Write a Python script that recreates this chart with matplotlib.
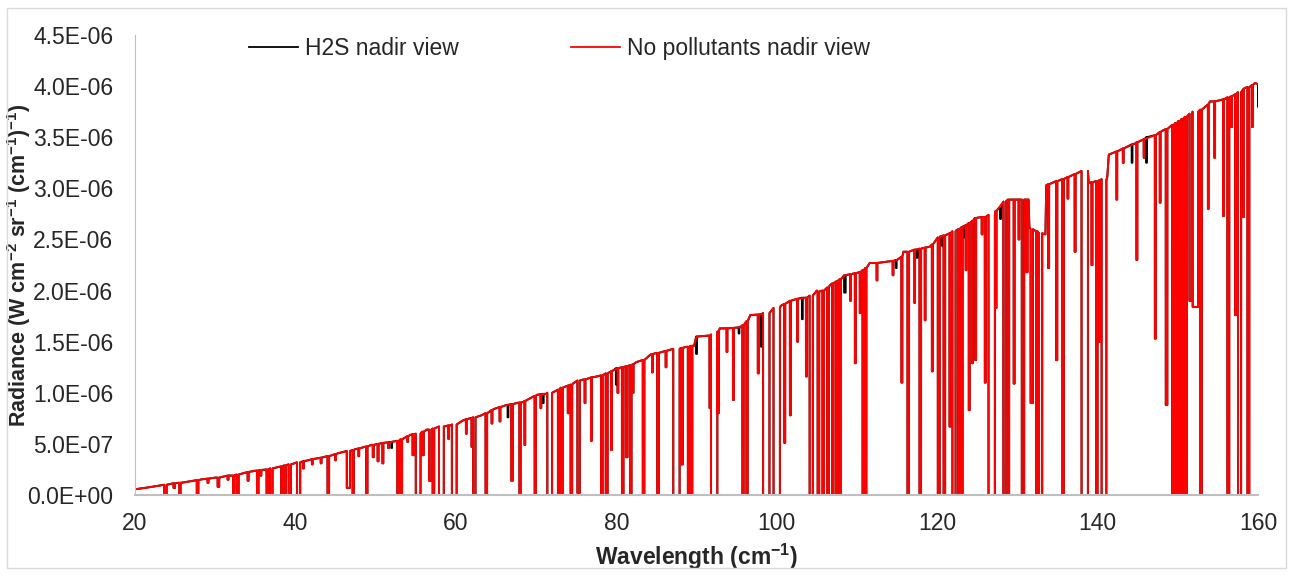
import numpy as np
import matplotlib
matplotlib.use("Agg")
import matplotlib.pyplot as plt
from matplotlib.lines import Line2D
from matplotlib.patches import Rectangle
from matplotlib.ticker import FuncFormatter, MultipleLocator

# --- values (radiance in units of 1E-06 W cm-2 sr-1 (cm-1)-1) ---
# upper envelope of the spectrum
env_x = [20, 21.7, 23.7, 25.8, 28.3, 30, 32.5, 34.5, 35.8, 37.5,
         39.5, 41.6, 43.7, 45.4, 47.4, 49.5, 52, 54.3, 56.4, 58.0,
         59.3, 60.9, 63.2, 64.7, 66.3, 68.4, 70.1, 71.3, 74.6, 75.9,
         77.6, 80.1, 82.5, 84.2, 87.1, 88.8, 89.7, 90.0, 91.7, 92.9,
         95.4, 96.7, 98.1, 100.5, 101.7, 103.7, 105.0, 106.6, 108.5, 110.4,
         111.6, 115.0, 115.8, 119.1, 120.4, 122.4, 124.7, 126.0, 127.6, 128.9,
         131.4, 131.5, 133.5, 133.6, 136.0, 138.0, 138.9, 141.2, 141.4, 144.7,
         148.0, 149.4, 151.9, 154.0, 156.4, 158.3, 159.6, 160.0]
env_y = [0.056, 0.075, 0.097, 0.12, 0.153, 0.17, 0.196, 0.23, 0.245, 0.267,
         0.30, 0.34, 0.375, 0.41, 0.447, 0.49, 0.52, 0.587, 0.64, 0.67,
         0.68, 0.73, 0.78, 0.84, 0.88, 0.91, 0.98, 0.99, 1.09, 1.13,
         1.16, 1.24, 1.30, 1.37, 1.43, 1.45, 1.46, 1.55, 1.56, 1.63,
         1.64, 1.76, 1.77, 1.85, 1.92, 1.93, 2.0, 2.05, 2.15, 2.18,
         2.27, 2.30, 2.38, 2.43, 2.53, 2.59, 2.71, 2.72, 2.80, 2.89,
         2.89, 2.62, 2.55, 3.03, 3.10, 3.18, 3.05, 3.10, 3.33, 3.44,
         3.56, 3.62, 3.75, 3.85, 3.90, 3.98, 4.03, 4.02]

# absorption lines (both runs): centre, half width, level beside the line, level at its bottom
dip_x = [23.8, 24.9, 25.6, 27.8, 29.1, 30.4, 31.6, 32.3, 32.8, 34.1,
         35.3, 35.7, 36.5, 37.0, 38.3, 38.7, 39.3, 40.4, 41.0, 42.1,
         43.2, 44.1, 45.0, 46.6, 47.2, 47.9, 48.9, 49.7, 50.3, 50.9,
         51.6, 52.8, 53.2, 54.0, 54.7, 55.3, 55.9, 56.8, 57.2, 58.2,
         59.1, 59.8, 61.3, 62.0, 62.3, 63.8, 64.5, 65.5, 67.0, 68.0,
         68.6, 69.9, 70.6, 71.7, 72.8, 73.2, 74.0, 74.4, 75.3, 76.1,
         76.9, 78.2, 78.8, 79.4, 80.2, 80.8, 81.3, 81.8, 82.1, 83.4,
         84.5, 85.2, 86.2, 87.5, 88.2, 89.0, 89.4, 91.7, 92.2, 92.7,
         93.8, 94.6, 95.8, 96.3, 97.7, 98.7, 100.0, 101.0, 101.7, 102.6,
         103.7, 104.3, 105.2, 105.8, 106.4, 107.0, 107.5, 107.9, 109.2, 109.8,
         110.4, 110.8, 111.1, 112.5, 114.5, 115.6, 116.4, 117.2, 117.9, 118.5,
         119.4, 120.2, 120.9, 121.6, 122.1, 122.7, 123.1, 123.6, 124.0, 124.4,
         124.8, 125.6, 126.0, 126.8, 127.35, 128.4, 128.9, 129.6, 130.2, 130.7,
         131.2, 131.8, 132.4, 132.9, 133.9, 134.9, 135.7, 136.3, 137.2, 138.4,
         139.3, 139.9, 140.3, 140.8, 142.4, 143.2, 144.9, 145.8, 147.2, 147.8,
         148.6, 149.4, 149.8, 150.2, 150.6, 151.0, 151.6, 152.2, 152.9, 153.8,
         154.6, 155.7, 156.3, 156.7, 157.2, 157.7, 158.2, 158.8, 159.3]
dip_hw = [0.15, 0.1, 0.08, 0.1, 0.06, 0.1, 0.06, 0.08, 0.12, 0.06,
          0.1, 0.05, 0.1, 0.15, 0.08, 0.1, 0.15, 0.2, 0.05, 0.05,
          0.05, 0.1, 0.05, 0.2, 0.08, 0.05, 0.08, 0.06, 0.06, 0.06,
          0.05, 0.1, 0.1, 0.05, 0.1, 0.3, 0.1, 0.15, 0.1, 0.3,
          0.05, 0.3, 0.05, 0.05, 0.15, 0.1, 0.05, 0.05, 0.1, 0.08,
          0.05, 0.08, 0.05, 0.3, 0.08, 0.12, 0.05, 0.1, 0.15, 0.05,
          0.05, 0.1, 0.12, 0.05, 0.05, 0.1, 0.1, 0.1, 0.05, 0.1,
          0.05, 0.1, 0.05, 0.4, 0.1, 0.08, 0.08, 0.08, 0.4, 0.08,
          0.05, 0.06, 0.08, 0.08, 0.06, 0.4, 0.4, 0.06, 0.06, 0.05,
          0.06, 0.2, 0.1, 0.1, 0.1, 0.08, 0.08, 0.08, 0.05, 0.06,
          0.05, 0.1, 0.08, 0.05, 0.05, 0.06, 0.1, 0.05, 0.1, 0.05,
          0.06, 0.12, 0.1, 0.06, 0.2, 0.1, 0.08, 0.05, 0.06, 0.05,
          0.06, 0.05, 0.06, 0.4, 0.05, 0.15, 0.08, 0.06, 0.05, 0.15,
          0.08, 0.15, 0.08, 0.2, 0.06, 0.08, 0.1, 0.05, 0.06, 0.4,
          0.06, 0.1, 0.06, 0.3, 0.05, 0.05, 0.06, 0.05, 0.06, 0.05,
          0.1, 0.12, 0.12, 0.12, 0.12, 0.12, 0.15, 0.35, 0.1, 0.05,
          0.05, 0.06, 0.12, 0.05, 0.06, 0.2, 0.05, 0.12, 0.05]
dip_top = [0.10, 0.115, 0.12, 0.145, 0.16, 0.17, 0.19, 0.19, 0.20, 0.225,
           0.24, 0.245, 0.25, 0.26, 0.28, 0.29, 0.30, 0.32, 0.33, 0.35,
           0.365, 0.38, 0.40, 0.43, 0.44, 0.455, 0.475, 0.49, 0.50, 0.51,
           0.515, 0.53, 0.545, 0.575, 0.595, 0.60, 0.62, 0.64, 0.65, 0.67,
           0.68, 0.69, 0.74, 0.755, 0.76, 0.80, 0.83, 0.86, 0.89, 0.905,
           0.92, 0.97, 0.985, 1.0, 1.03, 1.05, 1.07, 1.08, 1.12, 1.13,
           1.15, 1.17, 1.19, 1.21, 1.24, 1.25, 1.26, 1.27, 1.28, 1.32,
           1.38, 1.39, 1.41, 1.43, 1.44, 1.45, 1.46, 1.56, 1.57, 1.60,
           1.63, 1.635, 1.66, 1.70, 1.765, 1.78, 1.83, 1.87, 1.90, 1.92,
           1.93, 1.95, 1.99, 2.0, 2.03, 2.07, 2.09, 2.11, 2.16, 2.17,
           2.18, 2.20, 2.22, 2.27, 2.29, 2.33, 2.38, 2.40, 2.41, 2.42,
           2.45, 2.52, 2.54, 2.56, 2.58, 2.60, 2.62, 2.64, 2.66, 2.68,
           2.71, 2.72, 2.72, 2.74, 2.78, 2.87, 2.89, 2.89, 2.89, 2.89,
           2.89, 2.60, 2.58, 2.56, 3.04, 3.07, 3.09, 3.11, 3.14, 3.17,
           3.06, 3.07, 3.08, 3.09, 3.36, 3.39, 3.45, 3.48, 3.52, 3.55,
           3.58, 3.62, 3.64, 3.66, 3.68, 3.70, 3.73, 3.75, 3.77, 3.82,
           3.85, 3.87, 3.89, 3.90, 3.92, 3.94, 3.97, 3.99, 4.01]
dip_bot = [0, 0.07, 0, 0, 0.12, 0.08, 0.15, 0, 0, 0.14,
           0, 0.19, 0, 0, 0, 0, 0, 0, 0.26, 0.30,
           0.31, 0, 0.34, 0.07, 0, 0.38, 0, 0.37, 0.33, 0.31,
           0.46, 0, 0, 0.52, 0.39, 0, 0.39, 0.14, 0, 0,
           0.55, 0, 0.60, 0.47, 0, 0, 0.70, 0.72, 0.14, 0,
           0.49, 0, 0.85, 0, 0, 0, 0.8, 0, 0.02, 0.9,
           0.53, 0, 0, 0.44, 1.0, 0, 0.37, 0, 1.0, 0,
           1.2, 0, 1.25, 0, 0.3, 0, 0, 0.85, 0, 0.80,
           1.4, 0.93, 0, 0, 1.19, 0, 0, 0.51, 0.78, 1.5,
           1.16, 0, 0, 0, 0, 0, 0, 0, 1.9, 1.29,
           1.78, 0, 0, 2.1, 2.15, 1.1, 0, 1.88, 0, 1.71,
           1.21, 0, 0, 0.67, 0, 0, 0, 2.2, 0.83, 1.29,
           1.32, 2.55, 1.1, 0, 1.83, 0, 0, 1.09, 2.5, 0,
           2.18, 0.9, 0, 0, 2.22, 1.32, 0, 2.9, 2.38, 0,
           2.25, 0, 1.50, 0, 2.89, 3.25, 2.30, 3.3, 1.53, 2.86,
           0.88, 0, 0, 0, 0, 0, 1.9, 1.84, 0, 2.8,
           3.3, 2.73, 0, 3.6, 1.76, 0, 2.72, 0, 3.6]

# extra absorption seen only in the H2S run (black, peeks out below the red trace)
h2s_x = [52.0, 66.5, 70.9, 80.0, 90.0, 95.3, 98.1, 103.2, 108.5, 114.9,
         117.5, 120.6, 123.3, 127.9, 144.3, 146.1]
h2s_hw = [0.05, 0.05, 0.05, 0.05, 0.05, 0.05, 0.05, 0.05, 0.1, 0.05,
          0.05, 0.05, 0.05, 0.05, 0.05, 0.05]
h2s_top = [0.52, 0.88, 0.99, 1.24, 1.55, 1.64, 1.77, 1.93, 2.15, 2.30,
           2.40, 2.53, 2.63, 2.80, 3.43, 3.50]
h2s_bot = [0.46, 0.76, 0.90, 1.08, 1.38, 1.58, 1.45, 1.72, 1.98, 2.22,
           2.32, 2.44, 2.52, 2.70, 3.25, 3.25]
h2s_last = (160.0, 3.80)


def build_trace(ex, ey, lines, extra=()):
    spans = [(x - w, x + w) for x, w, _, _ in lines]
    pts = [(x, y) for x, y in zip(ex, ey) if not any(a <= x <= b for a, b in spans)]
    for x, w, top, bot in lines:
        pts += [(x - w, top), (x - w + 0.005, bot), (x + w - 0.005, bot), (x + w, top)]
    pts.sort(key=lambda p: p[0])
    pts += list(extra)
    arr = np.array(pts)
    return arr[:, 0], arr[:, 1] * 1e-6


red_lines = list(zip(dip_x, dip_hw, dip_top, dip_bot))
h2s_lines = red_lines + list(zip(h2s_x, h2s_hw, h2s_top, h2s_bot))
red_x, red_y = build_trace(env_x, env_y, red_lines)
blk_x, blk_y = build_trace(env_x, env_y, h2s_lines, extra=[h2s_last])

plt.rcParams.update({
    "font.family": "Liberation Sans",
    "mathtext.fontset": "custom",
    "mathtext.rm": "Liberation Sans:bold",
    "mathtext.it": "Liberation Sans:bold",
    "mathtext.bf": "Liberation Sans:bold",
    "font.size": 16.5,
})

text_col = "#262626"
fig = plt.figure(figsize=(12.92, 5.78), dpi=100)
ax = fig.add_axes([135 / 1292, 83 / 578, 1123 / 1292, 460 / 578])

ax.plot(blk_x, blk_y, color="black", lw=1.4)
ax.plot(red_x, red_y, color="#FF0000", lw=1.4)

ax.set_xlim(20, 160)
ax.set_ylim(0, 4.5e-6)
ax.xaxis.set_major_locator(MultipleLocator(20))
ax.yaxis.set_major_locator(MultipleLocator(0.5e-6))
ax.yaxis.set_major_formatter(FuncFormatter(lambda v, p: "%.1E" % v))
ax.tick_params(axis="both", length=0, labelsize=16.5, colors=text_col)
ax.tick_params(axis="y", pad=15.5)
ax.tick_params(axis="x", pad=12)

for s in ["top", "right"]:
    ax.spines[s].set_visible(False)
ax.spines["left"].set_color("#BFBFBF")
ax.spines["bottom"].set_color("#BFBFBF")
ax.spines["bottom"].set_linewidth(1.5)

ax.set_xlabel(r"Wavelength (cm$^{-1}$)", fontsize=16.5, fontweight="bold",
              color=text_col, labelpad=5)
ax.set_ylabel(r"Radiance (W cm$^{-2}$ sr$^{-1}$ (cm$^{-1}$)$^{-1}$)", fontsize=15.5,
              fontweight="bold", color=text_col)
ax.yaxis.set_label_coords(-0.0905, 0.5)

handles = [Line2D([], [], color="black", lw=1.3), Line2D([], [], color="#FF0000", lw=1.3)]
ax.legend(handles, ["H2S nadir view", "No pollutants nadir view"], ncol=2,
          frameon=False, loc="upper left", bbox_to_anchor=(0.083, 1.04),
          handlelength=2.15, handletextpad=0.3, columnspacing=4.9,
          fontsize=16.5, labelcolor=text_col)

fig.patches.append(Rectangle((7, 10), 1279, 560, transform=None, fill=False,
                             edgecolor="#D9D9D9", lw=1.0))

fig.savefig("out.png", dpi=100)
